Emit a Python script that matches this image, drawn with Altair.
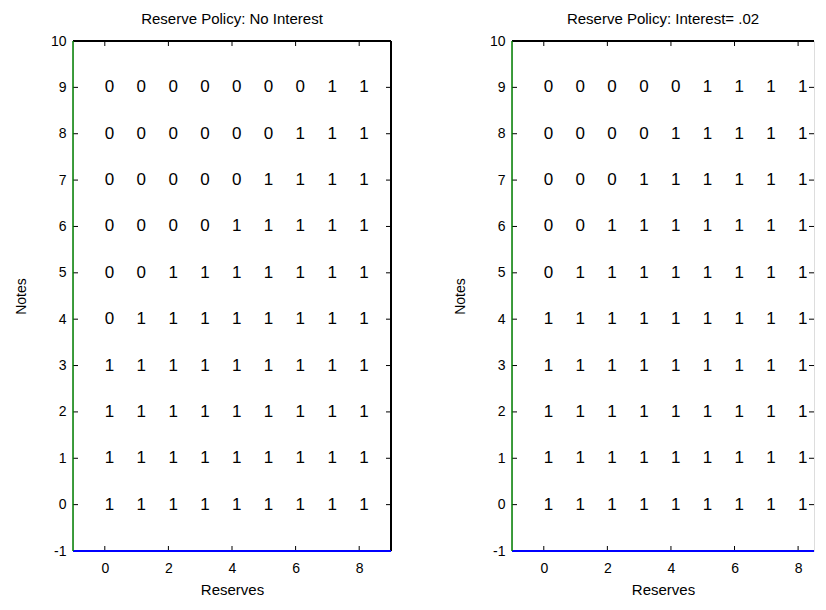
import altair as alt
import pandas as pd

# ---------------- data ----------------
reserves = [0, 1, 2, 3, 4, 5, 6, 7, 8]
notes = [0, 1, 2, 3, 4, 5, 6, 7, 8, 9]

# rows indexed by Notes (0 .. 9), columns by Reserves (0 .. 8)
no_interest = [
    [1, 1, 1, 1, 1, 1, 1, 1, 1],  # 0
    [1, 1, 1, 1, 1, 1, 1, 1, 1],  # 1
    [1, 1, 1, 1, 1, 1, 1, 1, 1],  # 2
    [1, 1, 1, 1, 1, 1, 1, 1, 1],  # 3
    [0, 1, 1, 1, 1, 1, 1, 1, 1],  # 4
    [0, 0, 1, 1, 1, 1, 1, 1, 1],  # 5
    [0, 0, 0, 0, 1, 1, 1, 1, 1],  # 6
    [0, 0, 0, 0, 0, 1, 1, 1, 1],  # 7
    [0, 0, 0, 0, 0, 0, 1, 1, 1],  # 8
    [0, 0, 0, 0, 0, 0, 0, 1, 1],  # 9
]
interest_02 = [
    [1, 1, 1, 1, 1, 1, 1, 1, 1],  # 0
    [1, 1, 1, 1, 1, 1, 1, 1, 1],  # 1
    [1, 1, 1, 1, 1, 1, 1, 1, 1],  # 2
    [1, 1, 1, 1, 1, 1, 1, 1, 1],  # 3
    [1, 1, 1, 1, 1, 1, 1, 1, 1],  # 4
    [0, 1, 1, 1, 1, 1, 1, 1, 1],  # 5
    [0, 0, 1, 1, 1, 1, 1, 1, 1],  # 6
    [0, 0, 0, 1, 1, 1, 1, 1, 1],  # 7
    [0, 0, 0, 0, 1, 1, 1, 1, 1],  # 8
    [0, 0, 0, 0, 0, 1, 1, 1, 1],  # 9
]
titles = ["Reserve Policy: No Interest", "Reserve Policy: Interest= .02"]
x_label_values = [0, 2, 4, 6, 8]
y_label_values = [-1, 0, 1, 2, 3, 4, 5, 6, 7, 8, 9, 10]
y_tick_values = [0, 1, 2, 3, 4, 5, 6, 7, 8, 9]

FONT = "Liberation Sans"
H = 510
TICK = 5


def panel(grid, title, width, xmax, right_border):
    df = pd.DataFrame(
        [
            {"Reserves": r, "Notes": n, "v": str(grid[i][j])}
            for i, n in enumerate(notes)
            for j, r in enumerate(reserves)
        ]
    )
    xs = alt.Scale(domain=[-1, xmax], nice=False, zero=False)
    ys = alt.Scale(domain=[-1, 10], nice=False, zero=False)
    xax = alt.Axis(
        values=x_label_values, ticks=False, domain=False, grid=False,
        labelPadding=10, titlePadding=7, labelFontSize=14, titleFontSize=15,
        labelFont=FONT, titleFont=FONT, labelColor="black", titleColor="black",
        titleFontWeight="normal", labelExpr="'' + datum.value",
    )
    yax = alt.Axis(
        values=y_label_values, ticks=False, domain=False, grid=False,
        labelPadding=7, titlePadding=22, labelFontSize=14, titleFontSize=14,
        labelFont=FONT, titleFont=FONT, labelColor="black", titleColor="black",
        titleFontWeight="normal", labelExpr="'' + datum.value",
    )

    def X():
        return alt.X("Reserves:Q", scale=xs, axis=xax, title="Reserves")

    def Y():
        return alt.Y("Notes:Q", scale=ys, axis=yax, title="Notes")

    text = alt.Chart(df).mark_text(
        align="left", baseline="middle", fontSize=17, font=FONT, color="black"
    ).encode(x=X(), y=Y(), text="v:N")

    xt = pd.DataFrame({"Reserves": x_label_values})
    yt = pd.DataFrame({"Notes": y_tick_values})
    bottom_ticks = alt.Chart(xt).mark_rule(color="black", strokeWidth=1).encode(
        x=X(), y=alt.value(H), y2=alt.value(H - TICK)
    )
    top_ticks = alt.Chart(xt).mark_rule(color="black", strokeWidth=1).encode(
        x=X(), y=alt.value(0), y2=alt.value(TICK)
    )
    left_ticks = alt.Chart(yt).mark_rule(color="black", strokeWidth=1).encode(
        y=Y(), x=alt.value(0), x2=alt.value(TICK)
    )
    right_ticks = alt.Chart(yt).mark_rule(color="black", strokeWidth=1).encode(
        y=Y(), x=alt.value(width), x2=alt.value(width - TICK)
    )

    one = alt.Data(values=[{}])
    top_line = alt.Chart(one).mark_rule(color="black", strokeWidth=2).encode(
        x=alt.value(0), x2=alt.value(width), y=alt.value(0)
    )
    bottom_line = alt.Chart(one).mark_rule(color="#0000ff", strokeWidth=2).encode(
        x=alt.value(0), x2=alt.value(width), y=alt.value(H)
    )
    left_line = alt.Chart(one).mark_rule(color="#007f00", strokeWidth=1.5).encode(
        x=alt.value(0), y=alt.value(0), y2=alt.value(H)
    )
    layers = [text, bottom_ticks, top_ticks, left_ticks, right_ticks, top_line]
    if right_border:
        layers.append(
            alt.Chart(one).mark_rule(color="black", strokeWidth=2).encode(
                x=alt.value(width), y=alt.value(0), y2=alt.value(H)
            )
        )
    layers += [bottom_line, left_line]
    return alt.layer(*layers).properties(
        width=width,
        height=H,
        title=alt.TitleParams(
            title, fontSize=15, font=FONT, fontWeight="normal", offset=7, color="black"
        ),
    )


left = panel(no_interest, titles[0], 318, 9, True)
right = panel(interest_02, titles[1], 302, 8.5, False)

chart = (
    alt.hconcat(left, right, spacing=59)
    .properties(padding={"left": 5, "top": 3, "right": 0, "bottom": 0})
    .configure_view(stroke=None)
    .configure(background="white")
)

chart.save("out.html", embed_options={"renderer": "svg", "actions": False})
